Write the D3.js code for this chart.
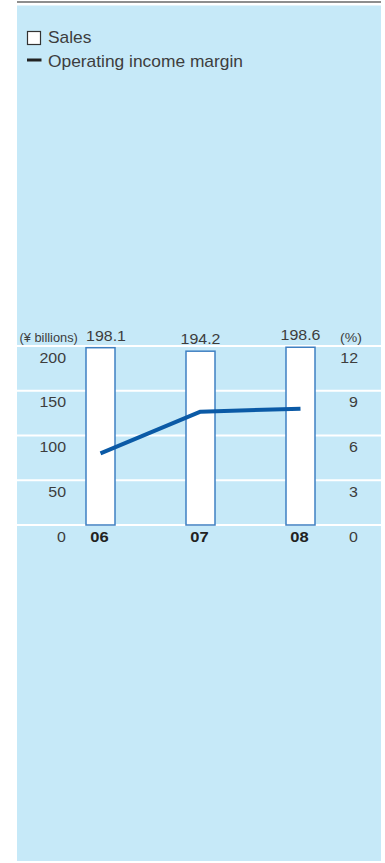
<!DOCTYPE html>
<html>
<head>
<meta charset="utf-8">
<script src="https://cdn.jsdelivr.net/npm/d3@7"></script>
<style>
  html, body { margin: 0; padding: 0; background: #ffffff; }
  svg { display: block; }
  text { font-family: "Liberation Sans", Arial, Helvetica, sans-serif; }
</style>
</head>
<body>
<svg id="chart" width="385" height="863"></svg>
<script>
// Fiscal years and series
const years = ["06", "07", "08"];
const sales = [198.1, 194.2, 198.6];          // ¥ billions
const margin = [4.8, 7.6, 7.8];               // operating income margin, %
const leftTicks = [0, 50, 100, 150, 200];
const rightTicks = [0, 3, 6, 9, 12];

const svg = d3.select("#chart");
const panel = { x0: 17, x1: 381, y0: 5.5, y1: 861 };
const stretch = 1.1;                           // slightly wide type

const colors = {
  panel: "#c6e9f8",
  rule: "#8e8e8e",
  grid: "#ffffff",
  text: "#3d3d3d",
  barStroke: "#3f80c2",
  line: "#0b5aa6"
};

// Top rule and panel background
svg.append("rect")
  .attr("x", panel.x0).attr("y", 1)
  .attr("width", panel.x1 - panel.x0).attr("height", 2)
  .attr("fill", colors.rule);
svg.append("rect")
  .attr("x", panel.x0).attr("y", panel.y0)
  .attr("width", panel.x1 - panel.x0).attr("height", panel.y1 - panel.y0)
  .attr("fill", colors.panel);

// Text helper with horizontal stretch around the anchor point
function label(g, x, y, str, opts = {}) {
  return g.append("text")
    .attr("transform", `translate(${x},${y}) scale(${opts.sx || stretch},1)`)
    .attr("text-anchor", opts.anchor || "start")
    .attr("font-size", opts.size || 14)
    .attr("font-weight", opts.weight || "normal")
    .attr("fill", opts.fill || colors.text)
    .text(str);
}

// Legend
const legend = svg.append("g");
legend.append("rect")
  .attr("x", 27.5).attr("y", 31.5).attr("width", 13).attr("height", 13)
  .attr("fill", "#ffffff").attr("stroke", "#333333").attr("stroke-width", 1.2);
label(legend, 48, 43, "Sales", { size: 15.8 });
legend.append("line")
  .attr("x1", 27).attr("x2", 41.5).attr("y1", 60).attr("y2", 60)
  .attr("stroke", "#222222").attr("stroke-width", 3);
label(legend, 48, 67, "Operating income margin", { size: 15.8 });

// Scales
const x = d3.scalePoint().domain(years).range([100.5, 300.5]);
const yL = d3.scaleLinear().domain([0, 200]).range([525, 346]);
const yR = d3.scaleLinear().domain([0, 12]).range([525, 346]);
const barW = 29;

// Gridlines across the panel
const grid = svg.append("g");
grid.selectAll("line").data(leftTicks).join("line")
  .attr("x1", panel.x0).attr("x2", panel.x1)
  .attr("y1", d => yL(d)).attr("y2", d => yL(d))
  .attr("stroke", colors.grid).attr("stroke-width", 2);

// Sales bars
svg.append("g").selectAll("rect").data(sales).join("rect")
  .attr("x", (d, i) => x(years[i]) - barW / 2)
  .attr("y", d => yL(d))
  .attr("width", barW)
  .attr("height", d => yL(0) - yL(d))
  .attr("fill", "#ffffff")
  .attr("stroke", colors.barStroke)
  .attr("stroke-width", 1.5);

// Value labels above bars (first one nudged clear of the unit label)
const vals = svg.append("g");
sales.forEach((v, i) => {
  const cx = x(years[i]) + (i === 0 ? 5.5 : 0);
  label(vals, cx, yL(v) - 7, d3.format(".1f")(v), { anchor: "middle", size: 14.5 });
});

// Margin line
svg.append("path")
  .datum(margin)
  .attr("d", d3.line().x((d, i) => x(years[i])).y(d => yR(d)))
  .attr("fill", "none")
  .attr("stroke", colors.line)
  .attr("stroke-width", 4)
  .attr("stroke-linejoin", "round");

// Left axis labels
const axL = svg.append("g");
leftTicks.forEach(t => label(axL, 66, yL(t) + 16.5, String(t), { anchor: "end", size: 14.5 }));
label(axL, 19.5, 341.5, "(¥ billions)", { size: 12.2, sx: 1.05 });

// Right axis labels
const axR = svg.append("g");
rightTicks.forEach(t => label(axR, 358, yR(t) + 16.5, String(t), { anchor: "end", size: 14.5 }));
label(axR, 362, 341.5, "(%)", { anchor: "end", size: 12.8 });

// Year labels
const axX = svg.append("g");
years.forEach(yv => label(axX, x(yv) - 1, yL(0) + 16.8, yv, { anchor: "middle", size: 15, weight: "bold", fill: "#222222" }));
</script>
</body>
</html>
